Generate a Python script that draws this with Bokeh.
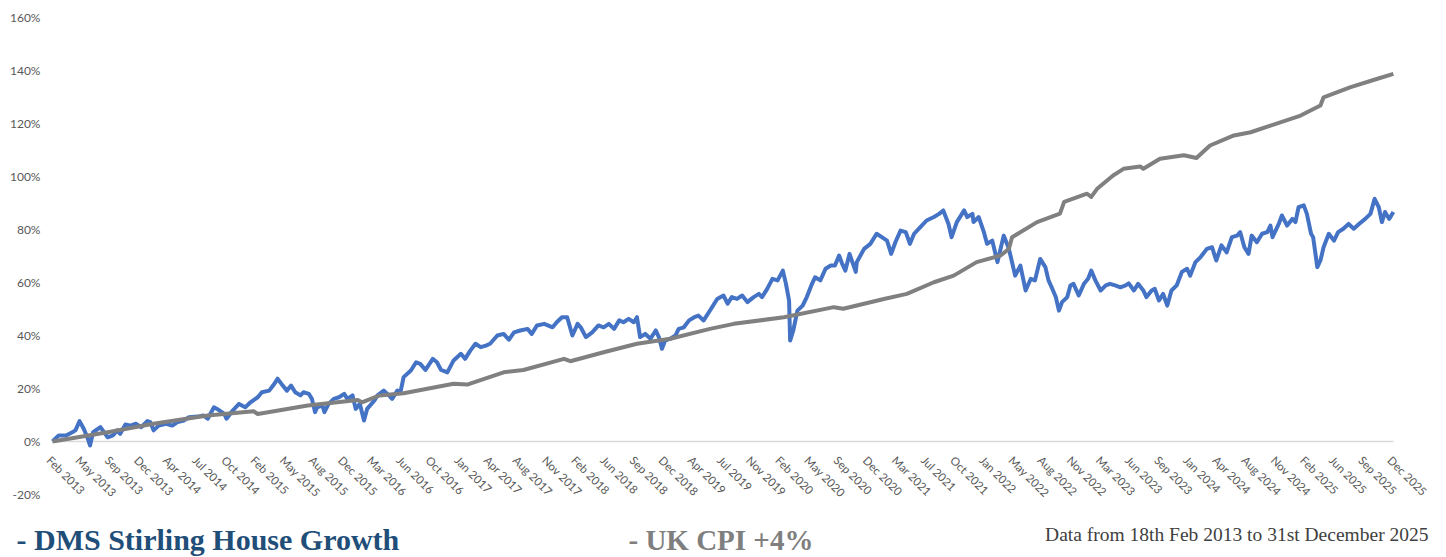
import numpy as np
from bokeh.plotting import figure
from bokeh.models import Range1d, ColumnDataSource, LabelSet, Label
from bokeh.core.properties import value
from bokeh.embed import file_html
from bokeh.resources import INLINE

tick_labels = ["Feb 2013", "May 2013", "Sep 2013", "Dec 2013", "Apr 2014", "Jul 2014", "Oct 2014",
               "Feb 2015", "May 2015", "Aug 2015", "Dec 2015", "Mar 2016", "Jun 2016", "Oct 2016",
               "Jan 2017", "Apr 2017", "Aug 2017", "Nov 2017", "Feb 2018", "Jun 2018", "Sep 2018",
               "Dec 2018", "Apr 2019", "Jul 2019", "Nov 2019", "Feb 2020", "May 2020", "Sep 2020",
               "Dec 2020", "Mar 2021", "Jul 2021", "Oct 2021", "Jan 2022", "May 2022", "Aug 2022",
               "Nov 2022", "Mar 2023", "Jun 2023", "Sep 2023", "Jan 2024", "Apr 2024", "Aug 2024",
               "Nov 2024", "Feb 2025", "Jun 2025", "Sep 2025", "Dec 2025"]
y_ticks = [-20, 0, 20, 40, 60, 80, 100, 120, 140, 160]

# DMS Stirling House Growth: cumulative % (x in decimal years)
dms_year = [2013.13, 2013.19, 2013.26, 2013.32, 2013.35, 2013.39, 2013.43, 2013.47, 2013.49, 2013.52,
            2013.59, 2013.66, 2013.71, 2013.75, 2013.78, 2013.83, 2013.88, 2013.93, 2013.98, 2014.04,
            2014.07, 2014.10, 2014.15, 2014.22, 2014.28, 2014.33, 2014.39, 2014.44, 2014.52, 2014.58,
            2014.62, 2014.68, 2014.71, 2014.78, 2014.80, 2014.86, 2014.92, 2014.98, 2015.03, 2015.10,
            2015.14, 2015.21, 2015.26, 2015.29, 2015.34, 2015.38, 2015.42, 2015.46, 2015.51, 2015.54,
            2015.59, 2015.62, 2015.65, 2015.67, 2015.72, 2015.74, 2015.78, 2015.83, 2015.88, 2015.93,
            2015.96, 2016.01, 2016.04, 2016.08, 2016.12, 2016.15, 2016.22, 2016.25, 2016.31, 2016.36,
            2016.39, 2016.44, 2016.47, 2016.50, 2016.57, 2016.62, 2016.66, 2016.71, 2016.78, 2016.82,
            2016.86, 2016.92, 2016.98, 2017.05, 2017.09, 2017.14, 2017.19, 2017.24, 2017.29, 2017.33,
            2017.40, 2017.46, 2017.51, 2017.56, 2017.62, 2017.69, 2017.73, 2017.78, 2017.85, 2017.93,
            2017.97, 2018.02, 2018.07, 2018.12, 2018.17, 2018.20, 2018.25, 2018.31, 2018.37, 2018.42,
            2018.47, 2018.52, 2018.57, 2018.61, 2018.66, 2018.71, 2018.74, 2018.77, 2018.82, 2018.87,
            2018.92, 2018.95, 2018.98, 2019.01, 2019.06, 2019.11, 2019.14, 2019.19, 2019.24, 2019.29,
            2019.33, 2019.38, 2019.45, 2019.51, 2019.57, 2019.61, 2019.65, 2019.70, 2019.75, 2019.80,
            2019.86, 2019.91, 2019.94, 2019.99, 2020.04, 2020.09, 2020.14, 2020.17, 2020.20, 2020.21,
            2020.24, 2020.28, 2020.33, 2020.37, 2020.42, 2020.45, 2020.50, 2020.55, 2020.60, 2020.64,
            2020.68, 2020.71, 2020.74, 2020.78, 2020.84, 2020.85, 2020.92, 2020.98, 2021.04, 2021.09,
            2021.14, 2021.18, 2021.22, 2021.27, 2021.32, 2021.36, 2021.40, 2021.46, 2021.52, 2021.59,
            2021.64, 2021.68, 2021.73, 2021.76, 2021.81, 2021.88, 2021.91, 2021.96, 2021.97, 2022.02,
            2022.07, 2022.10, 2022.15, 2022.20, 2022.26, 2022.31, 2022.37, 2022.42, 2022.47, 2022.52,
            2022.56, 2022.61, 2022.66, 2022.69, 2022.72, 2022.76, 2022.79, 2022.82, 2022.87, 2022.90,
            2022.93, 2022.98, 2023.03, 2023.07, 2023.10, 2023.14, 2023.19, 2023.24, 2023.28, 2023.33,
            2023.38, 2023.43, 2023.46, 2023.51, 2023.55, 2023.60, 2023.63, 2023.68, 2023.71, 2023.75,
            2023.79, 2023.83, 2023.87, 2023.92, 2023.97, 2024.02, 2024.05, 2024.10, 2024.15, 2024.21,
            2024.26, 2024.30, 2024.35, 2024.40, 2024.45, 2024.50, 2024.53, 2024.57, 2024.61, 2024.64,
            2024.69, 2024.74, 2024.79, 2024.82, 2024.84, 2024.90, 2024.93, 2024.98, 2025.03, 2025.06,
            2025.09, 2025.14, 2025.17, 2025.21, 2025.23, 2025.27, 2025.30, 2025.33, 2025.38, 2025.43,
            2025.47, 2025.52, 2025.57, 2025.62, 2025.67, 2025.73, 2025.78, 2025.82, 2025.86, 2025.89,
            2025.92, 2025.96, 2026.00]
dms_pct = [0.0, 2.3, 2.3, 3.5, 4.2, 7.7, 4.8, 1.0, -1.5, 3.5,
           5.4, 1.6, 2.3, 4.2, 2.9, 6.4, 6.0, 6.7, 5.4, 7.7,
           7.3, 4.2, 6.0, 6.7, 6.0, 7.3, 7.9, 9.2, 9.4, 9.8,
           8.6, 12.9, 12.3, 10.4, 8.6, 11.7, 14.2, 12.9, 14.8, 16.7,
           18.6, 19.2, 21.8, 23.7, 21.1, 19.2, 21.1, 18.6, 17.4, 18.6,
           18.0, 16.1, 11.1, 12.9, 13.6, 11.1, 14.2, 16.1, 16.7, 18.0,
           16.1, 17.4, 12.3, 14.2, 7.9, 12.3, 15.5, 17.4, 19.2, 17.4,
           16.1, 19.2, 18.6, 24.3, 26.8, 29.9, 29.3, 27.0, 31.2, 29.9,
           27.0, 26.1, 30.6, 33.1, 31.2, 34.3, 36.9, 35.6, 36.2, 36.9,
           40.0, 40.6, 38.4, 41.2, 41.9, 42.5, 40.6, 43.8, 44.4, 43.1,
           45.0, 46.9, 46.9, 40.0, 44.4, 43.1, 39.4, 41.2, 43.8, 43.1,
           44.4, 42.5, 45.7, 45.0, 46.3, 45.0, 46.9, 39.4, 40.6, 38.8,
           41.9, 39.4, 35.0, 38.1, 38.8, 40.0, 42.5, 43.1, 45.7, 46.9,
           47.5, 45.7, 50.0, 53.8, 55.1, 52.0, 54.5, 53.8, 55.1, 52.6,
           54.5, 55.7, 54.5, 57.6, 61.4, 60.8, 64.5, 59.5, 53.2, 38.1,
           41.9, 49.4, 51.3, 54.5, 59.5, 62.0, 60.8, 65.2, 66.4, 66.4,
           70.2, 67.0, 64.5, 70.8, 64.0, 67.7, 72.7, 74.6, 78.4, 77.1,
           75.8, 70.8, 75.2, 79.6, 79.0, 74.6, 78.4, 80.9, 83.4, 84.7,
           85.9, 87.2, 82.1, 77.1, 82.8, 87.2, 84.7, 85.9, 82.8, 84.7,
           79.0, 74.6, 75.8, 67.7, 77.7, 72.7, 62.6, 66.4, 57.0, 61.4,
           60.8, 68.9, 65.8, 60.8, 58.2, 54.5, 49.4, 52.6, 54.5, 58.9,
           59.5, 55.1, 59.5, 61.4, 64.5, 60.8, 57.0, 58.9, 59.5, 58.9,
           58.2, 58.9, 59.7, 57.0, 59.5, 57.0, 54.5, 57.0, 57.6, 53.2,
           55.7, 51.3, 57.0, 58.9, 64.0, 65.2, 62.6, 67.7, 69.6, 72.7,
           73.3, 68.3, 74.0, 71.4, 77.1, 77.7, 79.0, 73.3, 70.8, 77.7,
           75.2, 78.4, 79.0, 81.5, 77.1, 82.1, 85.3, 81.5, 84.0, 82.8,
           88.4, 89.1, 85.9, 78.4, 77.1, 65.8, 68.3, 73.3, 78.4, 75.8,
           79.0, 80.3, 82.1, 80.3, 82.1, 84.0, 85.9, 91.6, 88.4, 82.8,
           86.6, 84.0, 86.6]

# UK CPI +4%: cumulative %
cpi_year = [2013.13, 2013.66, 2014.10, 2014.62, 2015.06, 2015.10, 2015.58, 2016.06, 2016.10, 2016.27,
            2016.50, 2016.98, 2017.11, 2017.46, 2017.65, 2018.04, 2018.10, 2018.42, 2018.74, 2019.06,
            2019.44, 2019.67, 2020.15, 2020.63, 2020.72, 2021.11, 2021.33, 2021.59, 2021.78, 2022.00,
            2022.23, 2022.31, 2022.34, 2022.58, 2022.80, 2022.84, 2023.06, 2023.10, 2023.16, 2023.31,
            2023.41, 2023.57, 2023.60, 2023.76, 2023.99, 2024.11, 2024.24, 2024.47, 2024.63, 2024.82,
            2025.11, 2025.30, 2025.33, 2025.59, 2025.84, 2026.00]
cpi_pct = [0.0, 3.5, 6.7, 9.8, 11.4, 10.4, 13.6, 15.7, 14.8, 17.4,
           18.2, 21.8, 21.5, 26.1, 27.0, 31.2, 30.3, 33.7, 36.9, 38.8,
           42.5, 44.4, 46.9, 50.7, 50.1, 53.8, 55.7, 60.1, 62.6, 67.7,
           70.2, 72.7, 77.1, 82.8, 86.0, 90.4, 93.5, 92.3, 95.5, 100.4,
           102.9, 103.8, 102.9, 106.7, 108.0, 107.0, 111.7, 115.5, 116.7, 119.2,
           123.0, 126.8, 129.9, 133.7, 136.8, 138.7]

# The frame covers the whole canvas; the plotting area is 2013.13..2026.00 x -20%..160%
p = figure(width=1446, height=557, output_backend="svg", toolbar_location=None, tools="",
           x_range=Range1d(2012.631, 2026.51), y_range=Range1d(-43.77, 166.42),
           x_axis_location=None, y_axis_location=None,
           min_border_left=0, min_border_right=0, min_border_top=0, min_border_bottom=0)
p.outline_line_color = None
p.grid.visible = False
p.background_fill_color = "white"
p.border_fill_color = "white"

# zero baseline
p.segment(x0=dms_year[0], y0=0, x1=dms_year[-1], y1=0, line_color="#D9D9D9", line_width=1.5)

p.line(dms_year, dms_pct, line_color="#4472C4", line_width=4, line_join="round")
p.line(cpi_year, cpi_pct, line_color="#808080", line_width=4, line_join="round")

# y-axis tick labels
ysrc = ColumnDataSource(dict(x=[dms_year[0]] * len(y_ticks), y=y_ticks,
                             text=["%d%%" % t for t in y_ticks]))
p.add_layout(LabelSet(x="x", y="y", text="text", source=ysrc, x_offset=-12,
                      text_align="right", text_baseline="middle",
                      text_font=value("Lato"), text_font_size="12px", text_color="#595959"))

# x-axis (category-style) tick labels, evenly spaced across the series
tick_x = list(np.linspace(dms_year[0], dms_year[-1], len(tick_labels)))
src = ColumnDataSource(dict(x=tick_x, y=[0] * len(tick_labels), text=tick_labels))
p.add_layout(LabelSet(x="x", y="y", text="text", source=src, angle=-np.pi / 4,
                      text_align="left", text_baseline="top", x_offset=1, y_offset=-12,
                      text_font=value("Lato"), text_font_size="11.5px", text_color="#595959"))

p.add_layout(Label(x=16, y=18, x_units="screen", y_units="screen", text="- DMS  Stirling House Growth",
                   text_font="Liberation Serif", text_font_style="bold", text_font_size="30px",
                   text_color="#1F4E79", text_baseline="alphabetic", text_align="left"))
p.add_layout(Label(x=628, y=18, x_units="screen", y_units="screen", text="- UK CPI +4%",
                   text_font="Liberation Serif", text_font_style="bold", text_font_size="29px",
                   text_color="#7F7F7F", text_baseline="alphabetic", text_align="left"))
p.add_layout(Label(x=1428, y=23, x_units="screen", y_units="screen",
                   text="Data from 18th Feb 2013 to 31st December 2025",
                   text_font="Liberation Serif", text_font_size="19.5px",
                   text_color="#404040", text_baseline="alphabetic", text_align="right"))

open("out.html", "w").write(file_html(p, INLINE))
